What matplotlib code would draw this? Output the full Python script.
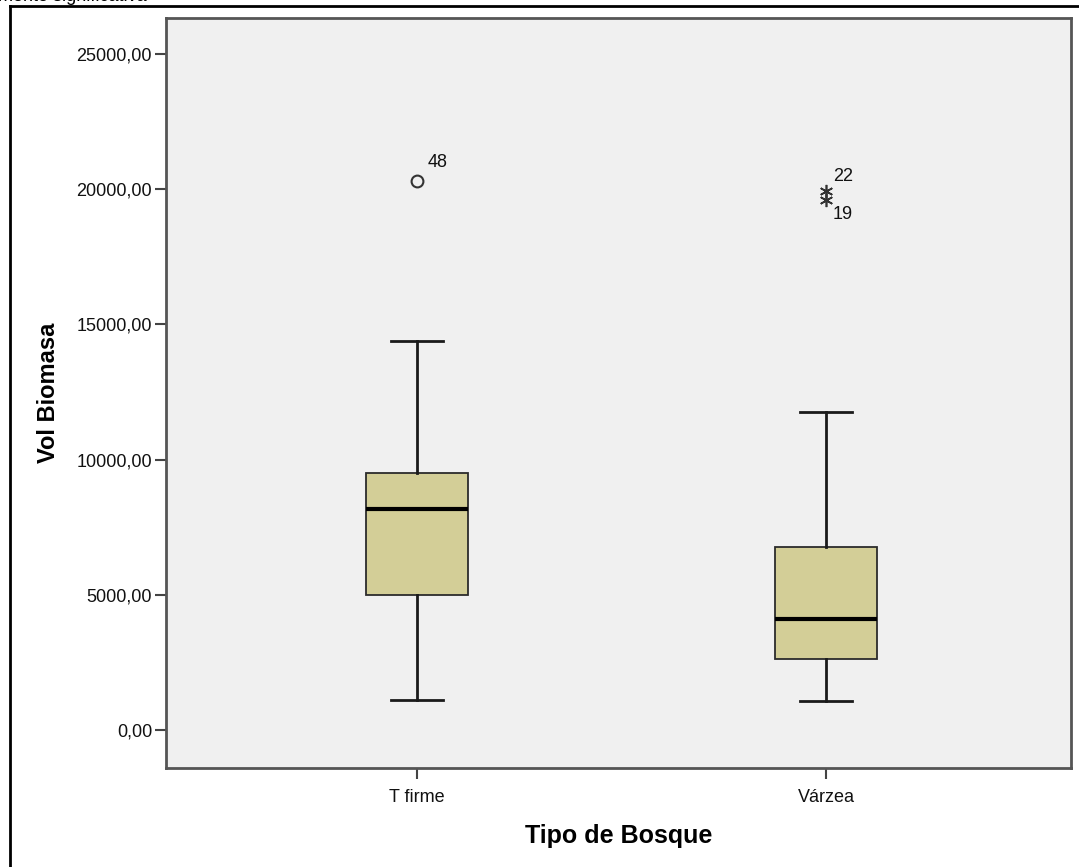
import matplotlib
matplotlib.use("Agg")
import matplotlib.pyplot as plt
from matplotlib.lines import Line2D

# Summary statistics per forest type
categories = ["T firme", "Várzea"]
whisker_low = [1109, 1072]
q1 = [4993, 2626]
median = [8173, 4116]
q3 = [9504, 6768]
whisker_high = [14386, 11749]

# Flagged cases: (group index, value, case id, marker kind)
outlier_group = [0, 1, 1]
outlier_value = [20303, 19933, 19601]
outlier_id = ["48", "22", "19"]
outlier_kind = ["o", "*", "*"]

yticks = [0, 5000, 10000, 15000, 20000, 25000]

plt.rcParams["font.family"] = ["Liberation Sans", "DejaVu Sans"]

fig = plt.figure(figsize=(10.79, 8.67), dpi=100)
ax = fig.add_axes([166 / 1079, 1 - 768 / 867, 905 / 1079, 750 / 867])
ax.set_facecolor("#F0F0F0")

positions = [1, 2]
stats = []
for i, name in enumerate(categories):
    stats.append(dict(label=name, whislo=whisker_low[i], q1=q1[i], med=median[i],
                      q3=q3[i], whishi=whisker_high[i], fliers=[]))

ax.bxp(stats, positions=positions, widths=0.25, patch_artist=True, showfliers=False,
       boxprops=dict(facecolor="#D3CE97", edgecolor="#2b2b2b", linewidth=1.3),
       medianprops=dict(color="black", linewidth=3),
       whiskerprops=dict(color="#1a1a1a", linewidth=2),
       capprops=dict(color="#1a1a1a", linewidth=2))

for g, v, cid, kind in zip(outlier_group, outlier_value, outlier_id, outlier_kind):
    x = positions[g]
    group_vals = [outlier_value[k] for k in range(len(outlier_value)) if outlier_group[k] == g]
    if kind == "o":
        ax.plot(x, v, marker="o", markersize=8.5, markerfacecolor="none",
                markeredgecolor="#333333", markeredgewidth=1.5, zorder=5)
        ax.annotate(cid, (x, v), xytext=(8, 7), textcoords="offset points",
                    fontsize=13, color="#111111", ha="left", va="bottom")
    else:
        ax.plot(x, v, marker=(6, 2, 0), markersize=9.5, markeredgecolor="#333333",
                markeredgewidth=1.2, zorder=5)
        if v == max(group_vals):
            ax.annotate(cid, (x, v), xytext=(5, 4), textcoords="offset points",
                        fontsize=13, color="#111111", ha="left", va="bottom")
        else:
            ax.annotate(cid, (x, v), xytext=(5, -4), textcoords="offset points",
                        fontsize=13, color="#111111", ha="left", va="top")

ax.set_xlim(1 - 251 / 409, 2 + 245 / 409)
ax.set_ylim(-1405, 26330)
ax.set_yticks(yticks)
ax.set_yticklabels([f"{t:.2f}".replace(".", ",") for t in yticks])
ax.set_xticks(positions)
ax.set_xticklabels(categories)
ax.tick_params(axis="both", labelsize=13, length=8, width=1.5, color="#444444",
               labelcolor="#111111")
ax.tick_params(axis="y", pad=2)
ax.tick_params(axis="x", pad=7)

for side in ["top", "right", "bottom", "left"]:
    ax.spines[side].set_color("#555555")
    ax.spines[side].set_linewidth(2)

ax.set_ylabel("Vol Biomasa", fontsize=17, fontweight="bold", labelpad=12)
ax.set_xlabel("Tipo de Bosque", fontsize=18, fontweight="bold", labelpad=13)

# Outer frame around the chart
fig.add_artist(Line2D([10 / 1079, 10 / 1079], [0, 1 - 6 / 867], color="black",
                      linewidth=2, transform=fig.transFigure))
fig.add_artist(Line2D([10 / 1079, 1], [1 - 6 / 867, 1 - 6 / 867], color="black",
                      linewidth=2, transform=fig.transFigure))

# Caption running above the frame
fig.text(-0.002, 1 - 1 / 867, "mente significativa", fontsize=13, color="black",
         ha="left", va="baseline")

fig.savefig("out.png", dpi=100, facecolor="white")
